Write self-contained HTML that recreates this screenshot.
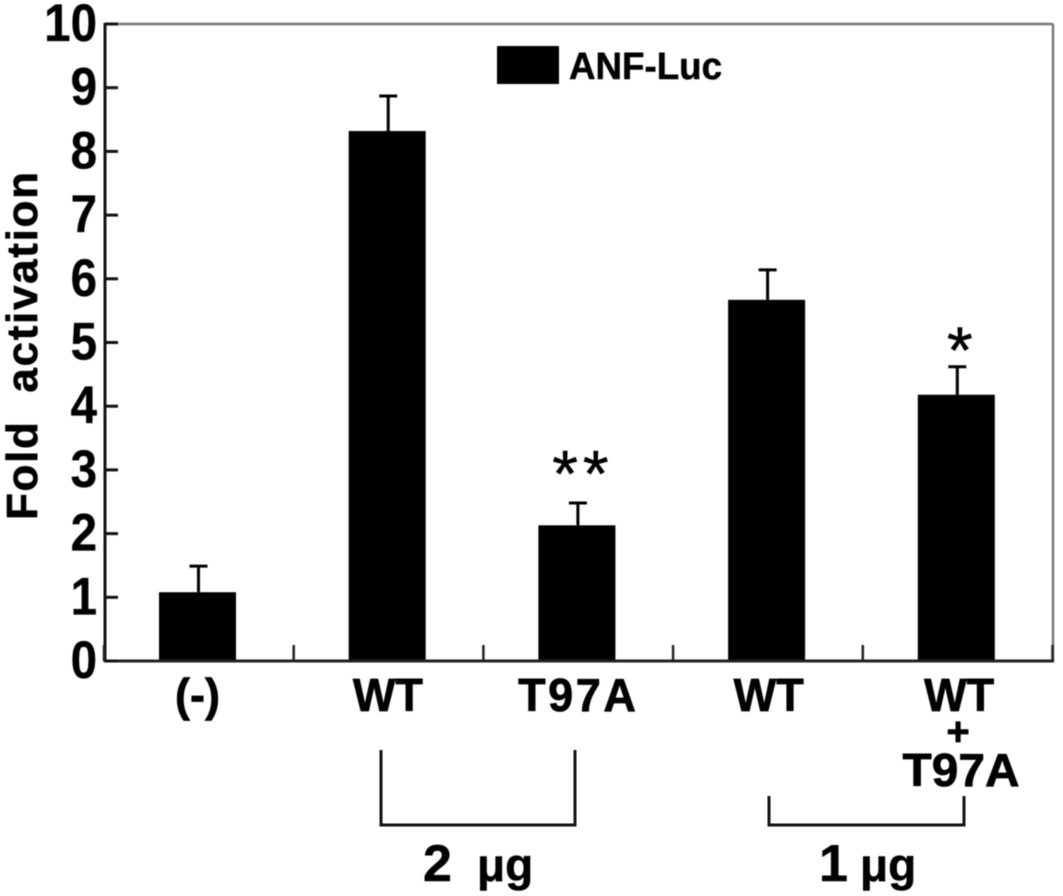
<!DOCTYPE html>
<html lang="en">
<head>
<meta charset="utf-8">
<title>Fold activation chart</title>
<style>
html,body{margin:0;padding:0;background:#fff;}
body{width:1063px;height:896px;overflow:hidden;}
svg{display:block;filter:blur(.5px);}
text{font-family:"Liberation Sans",Arial,sans-serif;fill:#000;}
.ytick{font-size:50px;font-weight:700;stroke:#000;stroke-width:.3px;}
.xlabel{font-size:46px;font-weight:700;stroke:#000;stroke-width:.7px;}
.dose{font-weight:700;stroke:#000;stroke-width:.5px;}
</style>
</head>
<body>
<svg id="chart" xmlns="http://www.w3.org/2000/svg" width="1063" height="896" viewBox="0 0 1063 896">
  <rect x="0" y="0" width="1063" height="896" fill="#fff"/>
  <g id="marks"></g>
  <line x1="105" y1="24" x2="1053" y2="24" stroke="#777" stroke-width="2.5"/>
  <line x1="1053" y1="24" x2="1053" y2="661" stroke="#777" stroke-width="2.5"/>
  <line x1="105" y1="23" x2="105" y2="662" stroke="#111" stroke-width="3"/>
  <line x1="104" y1="661" x2="1054" y2="661" stroke="#222" stroke-width="3"/>
  <g id="yticks"></g>
  <g id="xticks"></g>
  <text transform="translate(37,520) rotate(-90)" font-size="44" font-weight="700" stroke="#000" stroke-width=".6" textLength="348" lengthAdjust="spacing" xml:space="preserve">Fold  activation</text>

  <rect x="497" y="46" width="62" height="38" fill="#000"/>
  <text x="569" y="79" font-size="38" font-weight="700" stroke="#000" stroke-width=".5" textLength="153" lengthAdjust="spacingAndGlyphs">ANF-Luc</text>

  <text x="958" y="745" text-anchor="middle" font-size="40" font-weight="700" stroke="#000" stroke-width=".7">+</text>
  <text class="xlabel" x="961" y="786" text-anchor="middle" textLength="117" lengthAdjust="spacingAndGlyphs">T97A</text>

  <path d="M381 750V825H575V750" fill="none" stroke="#111" stroke-width="3"/>
  <path d="M769 796V825H964V796" fill="none" stroke="#111" stroke-width="3"/>
  <text class="dose" y="881"><tspan x="423" font-size="52">2</tspan><tspan x="477" font-size="46">μg</tspan></text>
  <text class="dose" y="881"><tspan x="819" font-size="52">1</tspan><tspan x="860" font-size="46">μg</tspan></text>
</svg>
<script>
var categories = ["(-)", "WT", "T97A", "WT", "WT"];
var foldValues = [1.08, 8.32, 2.13, 5.67, 4.18];
var errorValues = [0.41, 0.55, 0.35, 0.47, 0.44];
var significance = ["", "", "**", "", "*"];
var significanceLevels = [0, 0, 2.58, 0, 4.52];
var yTickLabels = [0, 1, 2, 3, 4, 5, 6, 7, 8, 9, 10];
var xTickSlots = [0, 1, 2, 3, 4, 5];

var NS = "http://www.w3.org/2000/svg";
var yZero = 661, yPerUnit = 63.7;
var barWidth = 77;
function yScale(v) { return yZero - v * yPerUnit; }
function xScale(i) { return 197.5 + i * 189.7; }
function xLabel(i) { return 197.5 + i * 190.4; }
function xEdge(i) { return 104 + i * 189.7; }
function make(tag, attrs, parent) {
  var el = document.createElementNS(NS, tag);
  for (var k in attrs) { el.setAttribute(k, attrs[k]); }
  parent.appendChild(el);
  return el;
}

var marks = document.getElementById("marks");
var yticks = document.getElementById("yticks");
var xticks = document.getElementById("xticks");

foldValues.forEach(function (v, i) {
  var cx = xScale(i);
  var top = yScale(v);
  var errTop = yScale(v + errorValues[i]);
  var bar = make("rect", { x: cx - barWidth / 2, y: top, width: barWidth, height: yZero - top, fill: "#000" }, marks);
  
  
  var stem = make("line", { x1: cx + 1, x2: cx + 1, y1: errTop, y2: top, stroke: "#000", "stroke-width": 3 }, marks);
  
  
  var cap = make("line", { x1: cx - 8, x2: cx + 10, y1: errTop, y2: errTop, stroke: "#000", "stroke-width": 3 }, marks);
  
  
  var label = make("text", { transform: "translate(" + xLabel(i) + ",711) scale(.98,1)", "text-anchor": "middle", "class": "xlabel" }, marks);
  
  
  if (categories[i].length > 3) { label.setAttribute("letter-spacing", "2.6"); }
  label.textContent = categories[i];
  if (significance[i]) {
    var star = make("text", { x: cx + 6, y: yScale(significanceLevels[i]), "text-anchor": "middle", "font-size": 66, "letter-spacing": 5, stroke: "#000", "stroke-width": 0.5 }, marks);
    
    
    star.textContent = significance[i];
  }
});

yTickLabels.forEach(function (t) {
  var y = yScale(t);
  var tick = make("line", { x1: 105, x2: 118, y1: y, y2: y, stroke: "#111", "stroke-width": 3 }, yticks);
  
  
  var label = make("text", { transform: "translate(97," + (y + 17) + ") scale(.95,1.05)", "text-anchor": "end", "class": "ytick" }, yticks);
  
  
  label.textContent = t;
});

xTickSlots.forEach(function (s) {
  var x = xEdge(s);
  var tick = make("line", { x1: x, x2: x, y1: 645, y2: 661, stroke: "#222", "stroke-width": 2.5 }, xticks);
  
  
});
</script>
</body>
</html>
